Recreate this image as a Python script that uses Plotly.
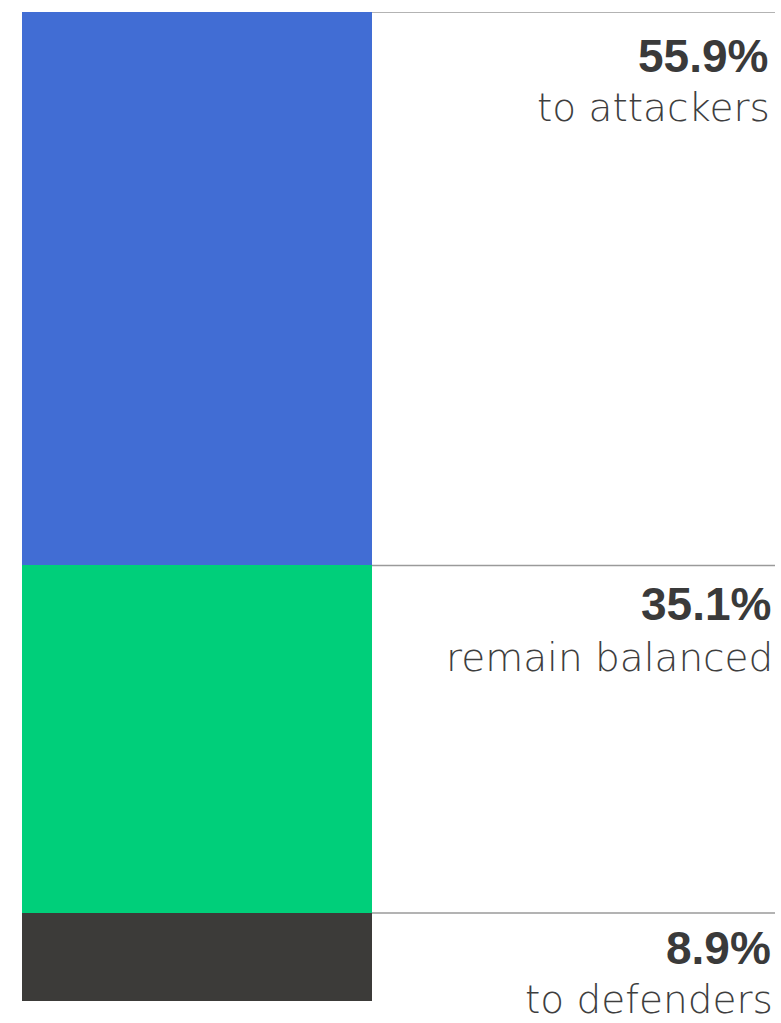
import plotly.graph_objects as go

categories = ["to defenders", "remain balanced", "to attackers"]
values = [8.9, 35.1, 55.9]
pct_labels = ["8.9%", "35.1%", "55.9%"]
colors = ["#3c3b39", "#00cf7a", "#416dd4"]

# per-segment label offsets (pixels below each segment's top line)
pct_shift = [-7, -11, -16]
lbl_shift = [-62, -68, -71]
x_shift = [0, 0, -3]

W, H = 781, 1023
L, R, T, B = 22, 6, 12, 22
plot_w = W - L - R
bar_px = 350
x_max = plot_w / bar_px

fig = go.Figure()
for cat, v, c in zip(categories, values, colors):
    fig.add_trace(go.Bar(x=[0.5], y=[v], width=[1.0], name=cat,
                         marker=dict(color=c, line=dict(width=0)),
                         hoverinfo="skip"))

total = sum(values)
tops = []
acc = 0
for v in values:
    acc += v
    tops.append(acc)

shapes = []
annotations = []
for cat, pct, top, ps, ls, xs in zip(categories, pct_labels, tops, pct_shift, lbl_shift, x_shift):
    shapes.append(dict(type="line", xref="x", yref="y", x0=1.0, x1=x_max,
                       y0=top, y1=top, line=dict(color="#9a9a9a", width=1.5)))
    annotations.append(dict(xref="paper", yref="y", x=1.0, y=top,
                            xanchor="right", yanchor="top", yshift=ps, xshift=xs - 2,
                            text="<b>" + pct + "</b>", showarrow=False,
                            font=dict(family="Liberation Sans, Arial", size=46, color="#3a3a3a")))
    annotations.append(dict(xref="paper", yref="y", x=1.0, y=top,
                            xanchor="right", yanchor="top", yshift=ls, xshift=xs,
                            text=cat, showarrow=False,
                            font=dict(family="DejaVu Sans", size=39, weight=200, color="#3e3e3e")))

fig.update_layout(
    width=W, height=H, barmode="stack", showlegend=False,
    margin=dict(l=L, r=R, t=T, b=B, pad=0),
    paper_bgcolor="white", plot_bgcolor="white",
    xaxis=dict(range=[0, x_max], visible=False, fixedrange=True),
    yaxis=dict(range=[0, total], visible=False, fixedrange=True),
    shapes=shapes, annotations=annotations,
    bargap=0, hovermode=False,
)
fig.write_html("out.html", config={"displayModeBar": False, "staticPlot": True},
               post_script="document.body.style.margin='0';document.body.style.overflow='hidden';")
